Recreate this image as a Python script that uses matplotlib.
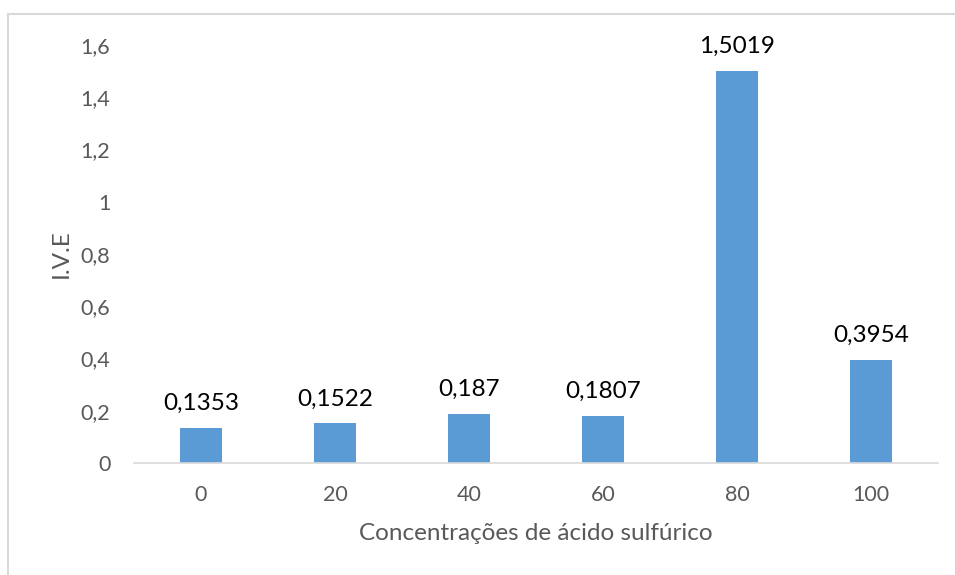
import matplotlib.pyplot as plt
from matplotlib.lines import Line2D
from matplotlib.ticker import FixedLocator, FuncFormatter

categories = ["0", "20", "40", "60", "80", "100"]
values = [0.1353, 0.1522, 0.187, 0.1807, 1.5019, 0.3954]
labels = ["0,1353", "0,1522", "0,187", "0,1807", "1,5019", "0,3954"]
yticks = [0, 0.2, 0.4, 0.6, 0.8, 1.0, 1.2, 1.4, 1.6]

plt.rcParams['font.family'] = ['Lato', 'DejaVu Sans']

fig = plt.figure(figsize=(9.55, 5.75), dpi=100)
ax = fig.add_axes([134 / 955, 1 - 463 / 575, (938 - 134) / 955, (463 - 45) / 575])

x = range(len(categories))
ax.bar(x, values, width=0.31, color="#5B9BD5", zorder=2)
for xi, v, lab in zip(x, values, labels):
    ax.annotate(lab, (xi, v), xytext=(0, 10), textcoords="offset points",
                ha="center", va="bottom", fontsize=17.5, color="black")

ax.set_xlim(-0.5, len(categories) - 0.5)
ax.set_ylim(0, 1.6)
ax.set_xticks(list(x))
ax.set_xticklabels(categories)
ax.yaxis.set_major_locator(FixedLocator(yticks))
ax.yaxis.set_major_formatter(FuncFormatter(lambda v, p: ("%g" % round(v, 1)).replace(".", ",")))

for s in ["top", "right", "left"]:
    ax.spines[s].set_visible(False)
ax.spines["bottom"].set_color("#D9D9D9")
ax.spines["bottom"].set_linewidth(1.2)
ax.tick_params(axis="both", length=0, labelsize=15.5, colors="#595959")
ax.tick_params(axis="y", pad=17)
ax.tick_params(axis="x", pad=16)

ax.set_xlabel("Concentrações de ácido sulfúrico", fontsize=17.5, color="#595959", labelpad=13)
ax.set_ylabel("I.V.E", fontsize=17.5, color="#595959")
ax.yaxis.set_label_coords(-0.078, 0.5)

# chart area border (only top and left visible in the crop)
fig.add_artist(Line2D([8 / 955, 8 / 955], [0, 1 - 14 / 575], transform=fig.transFigure,
                      color="#D9D9D9", lw=1.5))
fig.add_artist(Line2D([8 / 955, 1], [1 - 14 / 575, 1 - 14 / 575], transform=fig.transFigure,
                      color="#D9D9D9", lw=1.5))

fig.savefig("out.png", dpi=100)
